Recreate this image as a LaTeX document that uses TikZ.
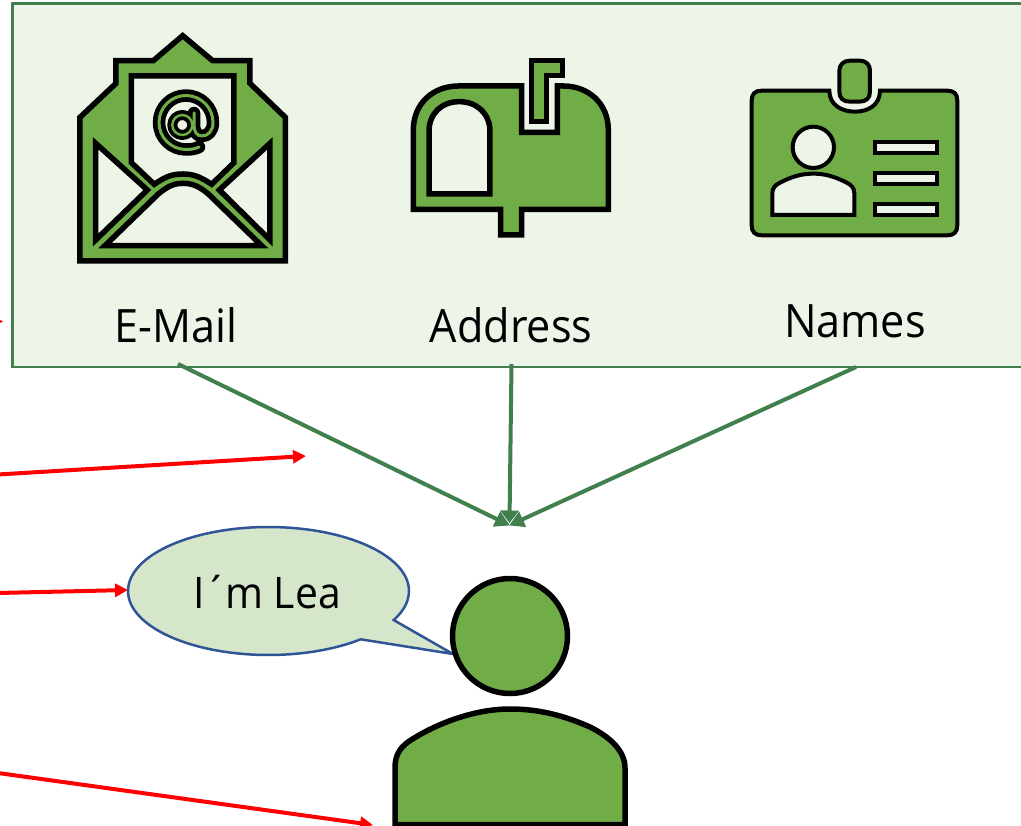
\documentclass[tikz,border=0pt]{standalone}
\usepackage{fontspec}
\setmainfont[FakeStretch=0.94]{Open Sans}
\usetikzlibrary{arrows.meta}
\definecolor{panelfill}{HTML}{EDF4E8}
\definecolor{paneledge}{HTML}{41804D}
\definecolor{icongreen}{HTML}{70AD47}
\definecolor{bubblefill}{HTML}{D5E6CA}
\definecolor{bubbleedge}{HTML}{2F5597}
\tikzset{
  panelbox/.style={draw=paneledge,fill=panelfill,line width=2.5pt,rectangle,inner sep=0pt,outer sep=0pt,anchor=north west,minimum width=1030pt,minimum height=363.5pt},
  feed/.style={draw=paneledge,line width=4pt,-{Triangle[length=15pt,width=16pt]}},
  feedmid/.style={draw=paneledge,line width=4pt,-{Triangle[length=12.5pt,width=18pt]}},
  redarrow/.style={draw=red,line width=4pt,-{Triangle[length=13pt,width=13pt]}},
  iconshape/.style={draw=black,fill=icongreen,line width=5.5pt,miter limit=10},
  iconhole/.style={draw=black,fill=panelfill,line width=5.5pt,miter limit=10},
  cardshape/.style={draw=black,fill=icongreen,line width=4pt},
  cardhole/.style={draw=black,fill=panelfill,line width=4pt},
  labeltext/.style={font=\fontsize{46}{50}\selectfont,text=black,inner sep=0pt,anchor=base},
  atblack/.style={draw=black,line cap=round,line join=round},
  atgreen/.style={draw=icongreen,line cap=round,line join=round},
}
\begin{document}
\begin{tikzpicture}[x=1pt,y=-1pt]
\useasboundingbox (0,0) rectangle (1021,826);
\clip (0,0) rectangle (1021,826);

% red arrows
\coordinate (redA) at (-2,474.5);
\coordinate (redAend) at (306,456);
\coordinate (redB) at (-2,593);
\coordinate (redC) at (-2,773);
\coordinate (redCend) at (373,825);
\fill[red] (3,321.5) -- (-6,317) -- (-6,326) -- cycle;

% panel
\node[panelbox] (panel) at (12.5,3.5) {};

% e-mail icon (zoom coordinates scaled into the picture)
\begin{scope}[shift={(60,20)},x=0.3333pt,y=-0.3333pt]
\path[iconshape] (60,723) -- (60,292) -- (168,190) -- (168,122) -- (280,122) -- (368,47) -- (458,122) -- (570,122) -- (570,190) -- (676,292) -- (676,723) -- cycle;
\path[iconhole] (214,168) -- (522,168) -- (522,428) -- (455,493) .. controls (420,470) and (400,462) .. (368,462) .. controls (336,462) and (316,470) .. (283,493) -- (214,428) -- cycle;
\path[iconhole] (107,370) -- (262,510) -- (107,660) -- cycle;
\path[iconhole] (630,370) -- (478,510) -- (630,660) -- cycle;
\path[iconhole] (135,677) -- (295,522) .. controls (325,497) and (345,490) .. (368,490) .. controls (395,490) and (415,497) .. (445,522) -- (605,677) -- cycle;
\end{scope}
% the @ sign
\def\atouter{(199,147) .. controls (195,149) and (191,149.5) .. (186,149.5) .. controls (171.1,149.5) and (159,137.4) .. (159,122.5) .. controls (159,107.6) and (171.1,95.5) .. (186,95.5) .. controls (200.9,95.5) and (213,107.6) .. (213,122.5) .. controls (213,131) and (208,136) .. (202,136) .. controls (197,136) and (194,132) .. (194,125) -- (194,113)}
\draw[atblack,line width=12.5pt] \atouter;
\draw[atblack,line width=10pt] (182.3,125) circle[radius=10pt];
\draw[atgreen,line width=3pt] \atouter;
\draw[atgreen,line width=2.4pt] (182.3,125) circle[radius=10pt];

% mailbox icon
\begin{scope}[shift={(400,50)},x=0.3333pt,y=-0.3333pt]
\path[iconshape] (40,478) -- (40,240) .. controls (40,160) and (100,108) .. (175,108) -- (365,108) -- (365,247) -- (472,247) -- (472,108) -- (490,108) .. controls (565,108) and (625,160) .. (625,240) -- (625,478) -- (365,478) -- (365,555) -- (302,555) -- (302,478) -- cycle;
\path[iconhole] (87,432) -- (87,245) .. controls (87,190) and (125,155) .. (178,155) .. controls (230,155) and (270,190) .. (270,245) -- (270,432) -- cycle;
\path[iconshape] (395,215) -- (395,31) -- (488,31) -- (488,77) -- (440,77) -- (440,215) -- cycle;
\end{scope}

% badge icon
\begin{scope}[shift={(740,50)},x=0.3333pt,y=-0.3333pt]
\path[cardshape] (65,122) -- (268,122) .. controls (268,165) and (305,185) .. (345,185) .. controls (385,185) and (420,165) .. (420,122) -- (622,122) .. controls (642,122) and (652,132) .. (652,152) -- (652,526) .. controls (652,546) and (642,556) .. (622,556) -- (65,556) .. controls (45,556) and (35,546) .. (35,526) -- (35,152) .. controls (35,132) and (45,122) .. (65,122) -- cycle;
\path[cardshape] (330,32) -- (358,32) .. controls (380,32) and (390,45) .. (390,62) -- (390,125) .. controls (390,145) and (378,155) .. (358,155) -- (330,155) .. controls (310,155) and (298,145) .. (298,125) -- (298,62) .. controls (298,45) and (310,32) .. (330,32) -- cycle;
\path[cardhole] (220,292) ellipse[x radius=62,y radius=62];
\path[cardhole] (97,495) -- (97,430) .. controls (97,415) and (105,405) .. (120,398) .. controls (155,380) and (185,371) .. (220,371) .. controls (255,371) and (285,380) .. (320,398) .. controls (335,405) and (343,415) .. (343,430) -- (343,495) -- cycle;
\path[cardhole] (405,277) rectangle (592,310);
\path[cardhole] (405,370) rectangle (592,402);
\path[cardhole] (405,462) rectangle (592,495);
\end{scope}

% labels
\node[labeltext] (emaillabel) at (176,343) {E-Mail};
\node[labeltext] (addresslabel) at (511,343) {Address};
\node[labeltext] (nameslabel) at (855,338) {Names};

% connectors into the person
\coordinate (emailout) at (178,364);
\coordinate (addressout) at (511.5,364);
\coordinate (namesout) at (856,367);
\coordinate (leftin) at (510,525.5);
\coordinate (midin) at (509.5,523);
\coordinate (rightin) at (509,525.5);
\draw[feed] (emailout) -- (leftin);
\draw[feed] (namesout) -- (rightin);
\draw[feedmid] (addressout) -- (midin);

% speech bubble
\draw[draw=bubbleedge,fill=bubblefill,line width=2.5pt,line join=miter]
  plot[domain=49:387,samples=90,smooth] ({268.5+140.5*cos(\x)},{591+64*sin(\x)}) -- (453,654) -- cycle;
\node[labeltext,font=\fontsize{43.5}{50}\selectfont] (bubbletext) at (267,608) {I´\kern-3pt m Lea};
\coordinate (bubblewest) at (128,590);

% person
\path[iconshape] (395,830) -- (395,768) .. controls (395,755) and (400,748) .. (408,742) .. controls (430,727) and (470,709) .. (510,709) .. controls (540,709) and (565,716) .. (590,727) .. controls (612,738) and (625,752) .. (625,768) -- (625,824.5) -- (395,824.5);
\node[circle,draw=black,fill=icongreen,line width=5.5pt,minimum size=115pt,inner sep=0pt,outer sep=0pt] (head) at (510,636) {};

\draw[redarrow] (redA) -- (redAend);
\draw[redarrow] (redB) -- (bubblewest);
\draw[redarrow] (redC) -- (redCend);
\end{tikzpicture}
\end{document}
